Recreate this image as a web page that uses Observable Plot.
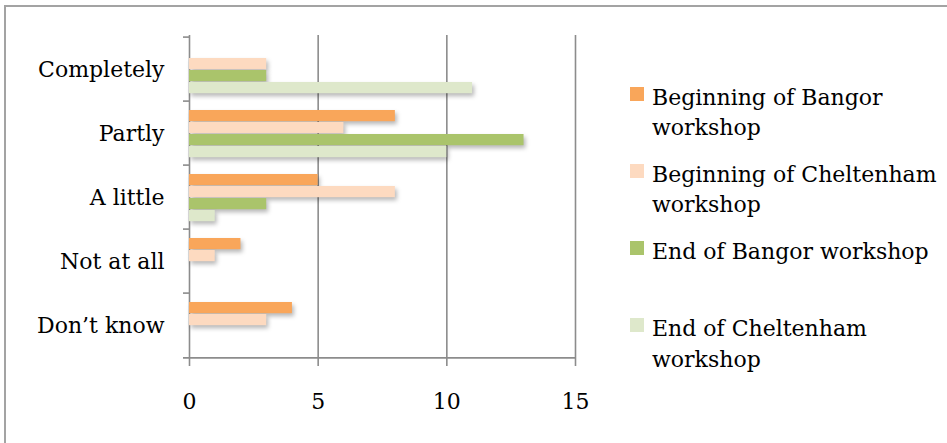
<!DOCTYPE html>
<html>
<head>
<meta charset="utf-8">
<script src="https://cdn.jsdelivr.net/npm/d3@7"></script>
<script src="https://cdn.jsdelivr.net/npm/@observablehq/plot@0.6"></script>
<style>
  html, body { margin: 0; padding: 0; background: #fff; overflow: hidden; }
  #wrap { position: relative; width: 947px; height: 443px; overflow: hidden; font-family: "DejaVu Serif", serif; }
  #frame { position: absolute; left: 4px; top: 5px; width: 960px; height: 460px; border-left: 2px solid #a3a3a3; border-top: 2px solid #a3a3a3; box-sizing: border-box; }
  #chart { position: absolute; left: 0; top: 0; }
  #chart svg g[aria-label="bar"] { filter: drop-shadow(2px 3px 2px rgba(0,0,0,0.28)); }
  #legend { position: absolute; left: 630px; top: 82.6px; width: 310px; }
  .item { position: relative; height: 77.3px; }
  .swatch { position: absolute; left: 0; top: 4px; width: 14px; height: 14px; }
  .label { position: absolute; left: 22px; top: 0; width: 290px; font-size: 22px; line-height: 30.5px; color: #000; }
</style>
</head>
<body>
<div id="wrap">
  <div id="frame"></div>
  <div id="chart"></div>
  <div id="legend"></div>
</div>
<script>
// Answer categories, top to bottom
const categories = ["Completely", "Partly", "A little", "Not at all", "Don\u2019t know"];

// Respondent counts per workshop group, in the order of the categories above
const series = [
  "Beginning of Bangor workshop",
  "Beginning of Cheltenham workshop",
  "End of Bangor workshop",
  "End of Cheltenham workshop"
];
const beginningBangor     = [0, 8, 5, 2, 4];
const beginningCheltenham = [3, 6, 8, 1, 3];
const endBangor           = [3, 13, 3, 0, 0];
const endCheltenham       = [11, 10, 1, 0, 0];
const seriesValues = [beginningBangor, beginningCheltenham, endBangor, endCheltenham];

const colors = ["#f9a65a", "#fddac0", "#aac46b", "#dee8cb"];
const xTicks = [0, 5, 10, 15];

// Layout
const W = 947, H = 443;
const margin = {top: 35, right: 372, bottom: 84, left: 189};
const band = (H - margin.top - margin.bottom) / categories.length;
const barH = 12, padTop = 9;

const table = categories.map((c, i) => ({category: c, values: seriesValues.map(v => v[i])}));

// One barX per series, each filling its own slice of the category band
const barMarks = series.map((s, k) =>
  Plot.barX(table, {
    y: "category",
    x: d => d.values[k],
    fill: colors[k],
    insetTop: padTop + barH * k,
    insetBottom: band - padTop - barH * (k + 1),
    filter: d => d.values[k] > 0
  })
);

const axisColor = "#8c8c8c";

const chart = Plot.plot({
  width: W,
  height: H,
  marginTop: margin.top,
  marginRight: margin.right,
  marginBottom: margin.bottom,
  marginLeft: margin.left,
  style: {fontFamily: "DejaVu Serif, serif", fontSize: "22px", color: "#000", background: "transparent", overflow: "visible"},
  x: {domain: [0, 15]},
  y: {domain: categories, padding: 0},
  marks: [
    // vertical gridlines and left axis line
    Plot.ruleX(xTicks, {stroke: axisColor, strokeWidth: 1.6}),
    // category boundary ticks on the left axis
    Plot.ruleY(categories, {y: d => d, x1: 0, x2: 0, insetLeft: -6, dy: -band / 2, stroke: axisColor, strokeWidth: 1.6}),
    // baseline at the bottom of the last band
    Plot.ruleY(categories.slice(-1), {y: d => d, x1: 0, x2: 15, insetLeft: -6, dy: band / 2, stroke: axisColor, strokeWidth: 1.6}),
    ...barMarks,
    Plot.axisY({tickSize: 0, tickPadding: 25, label: null, fontSize: 22}),
    Plot.axisX({ticks: xTicks, tickSize: 7, tickPadding: 27, stroke: axisColor, strokeWidth: 1.6, label: null, fontSize: 22})
  ]
});
document.getElementById("chart").appendChild(chart);

// Legend
const legend = document.getElementById("legend");
series.forEach((s, k) => {
  const item = document.createElement("div");
  item.className = "item";
  const sw = document.createElement("div");
  sw.className = "swatch";
  sw.style.background = colors[k];
  const lab = document.createElement("div");
  lab.className = "label";
  lab.textContent = s;
  item.appendChild(sw);
  item.appendChild(lab);
  legend.appendChild(item);
});
</script>
</body>
</html>
